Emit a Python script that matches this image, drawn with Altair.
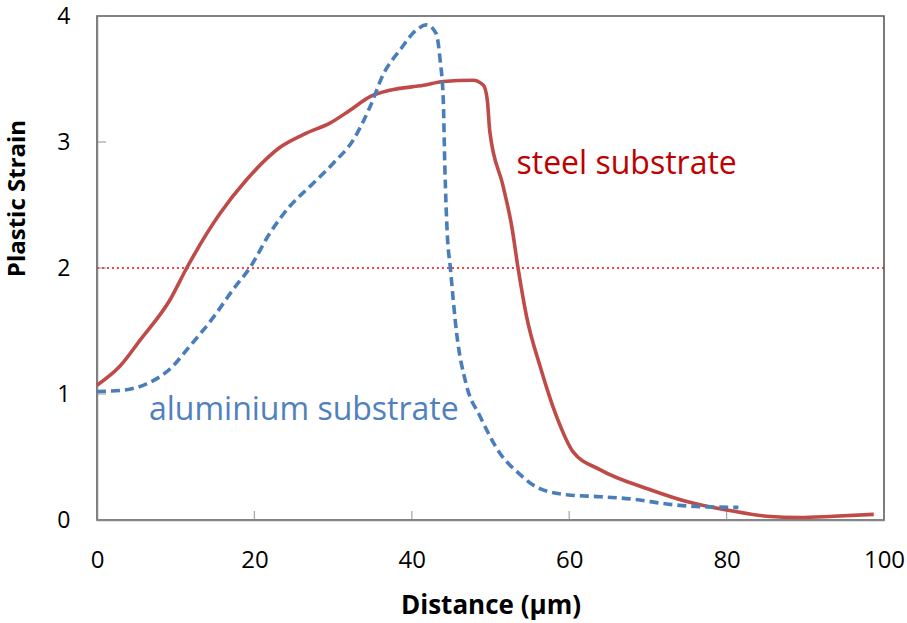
import altair as alt
import pandas as pd

steel_x = [0, 2.9, 5.5, 9.3, 11.4, 15.6, 19.0, 23.3, 26.6, 29.6, 32.1, 34.7, 37.2, 41.5, 44.0, 47.8,
           49.1, 49.6, 49.9, 51.6, 52.7, 53.5, 54.6, 56.3, 58.4, 60.5, 63.9, 70.3, 75.3, 80.0, 85.1,
           89.3, 93.6, 98.7]
steel_y = [1.07, 1.22, 1.43, 1.75, 2.0, 2.43, 2.70, 2.96, 3.07, 3.15, 3.25, 3.36, 3.41, 3.45, 3.48, 3.49,
           3.45, 3.33, 3.09, 2.65, 2.33, 2.0, 1.61, 1.22, 0.82, 0.54, 0.40, 0.24, 0.14, 0.08, 0.03,
           0.02, 0.03, 0.045]

alu_x = [0, 3.3, 6.3, 9.3, 11.8, 14.8, 17.3, 19.4, 22.0, 24.5, 27.1, 30.0, 32.6, 34.7, 36.4, 38.5,
         40.6, 41.9, 43.1, 43.6, 44.0, 44.2, 44.5, 44.9, 45.7, 46.9, 48.7, 51.2, 53.6, 55.9, 59.7,
         63.9, 68.2, 72.4, 76.6, 81.5]
alu_y = [1.02, 1.03, 1.08, 1.20, 1.38, 1.61, 1.83, 2.0, 2.28, 2.49, 2.65, 2.83, 3.02, 3.28, 3.54, 3.73,
         3.89, 3.93, 3.86, 3.65, 3.33, 2.80, 2.28, 2.0, 1.48, 1.08, 0.82, 0.53, 0.37, 0.26, 0.20,
         0.185, 0.165, 0.127, 0.106, 0.10]

x_ticks = [0, 20, 40, 60, 80, 100]
y_ticks = [0, 1, 2, 3, 4]
threshold = [2.0]
labels = ["steel substrate", "aluminium substrate"]
label_x = [53.3, 6.6]
label_y = [2.75, 0.79]

W, H = 787, 504
FONT = "Open Sans"

steel = pd.DataFrame({"x": steel_x, "y": steel_y, "o": range(len(steel_x))})
alu = pd.DataFrame({"x": alu_x, "y": alu_y, "o": range(len(alu_x))})

xs = alt.Scale(domain=[0, 100], nice=False)
ys = alt.Scale(domain=[0, 4], nice=False)

xaxis = alt.Axis(values=x_ticks, ticks=False, grid=False, domainColor="#868686", domainWidth=1.5,
                 labelFontSize=24, labelColor="#000000", labelFont=FONT, labelPadding=28,
                 labelFlush=False, format="d",
                 title="Distance (µm)", titleFont=FONT, titleFontSize=26, titleFontWeight="bold",
                 titleColor="#000000", titleY=85, titleBaseline="middle")
yaxis = alt.Axis(values=y_ticks, ticks=False, grid=False, domainColor="#868686", domainWidth=1.5,
                 labelFontSize=23, labelColor="#000000", labelFont=FONT, labelPadding=27,
                 labelFlush=False, format="d",
                 title="Plastic Strain", titleFont=FONT, titleFontSize=24, titleFontWeight="bold",
                 titleColor="#000000", titleAngle=-90, titleX=-80, titleY=182,
                 titleAlign="center", titleBaseline="middle")

base_x = alt.X("x:Q", scale=xs, axis=xaxis)
base_y = alt.Y("y:Q", scale=ys, axis=yaxis)

rule = alt.Chart(pd.DataFrame({"y": threshold})).mark_rule(
    color="#FF0000", strokeWidth=1.6, strokeDash=[2, 3]
).encode(y=base_y)

steel_line = alt.Chart(steel).mark_line(
    color="#BE4B48", strokeWidth=3.6, interpolate="monotone"
).encode(x=base_x, y=base_y, order="o:Q")

alu_line = alt.Chart(alu).mark_line(
    color="#4A7EBB", strokeWidth=3.6, strokeDash=[9, 5], interpolate="monotone"
).encode(x=base_x, y=base_y, order="o:Q")

xt = alt.Chart(pd.DataFrame({"x": x_ticks})).mark_tick(
    orient="vertical", size=9, yOffset=-4.5, thickness=1.3, color="#868686"
).encode(x=base_x, y=alt.datum(0))

yt = alt.Chart(pd.DataFrame({"y": y_ticks})).mark_tick(
    orient="horizontal", size=9, xOffset=4.5, thickness=1.3, color="#868686"
).encode(y=base_y, x=alt.datum(0))

lab = pd.DataFrame({"t": labels, "x": label_x, "y": label_y,
                    "c": ["#C00000", "#4F81BD"]})
texts = alt.Chart(lab).mark_text(
    align="left", baseline="alphabetic", fontSize=32, font=FONT
).encode(x=base_x, y=base_y, text="t:N", color=alt.Color("c:N", scale=None))

chart = alt.layer(rule, steel_line, alu_line, xt, yt, texts).properties(
    width=W, height=H,
    autosize=alt.AutoSizeParams(type="none"),
    padding={"left": 97, "top": 16, "right": 23, "bottom": 103},
    background="#FFFFFF",
).configure_view(stroke="#595959", strokeWidth=1.6)

chart.save("out.html", embed_options={"renderer": "svg", "actions": False})
